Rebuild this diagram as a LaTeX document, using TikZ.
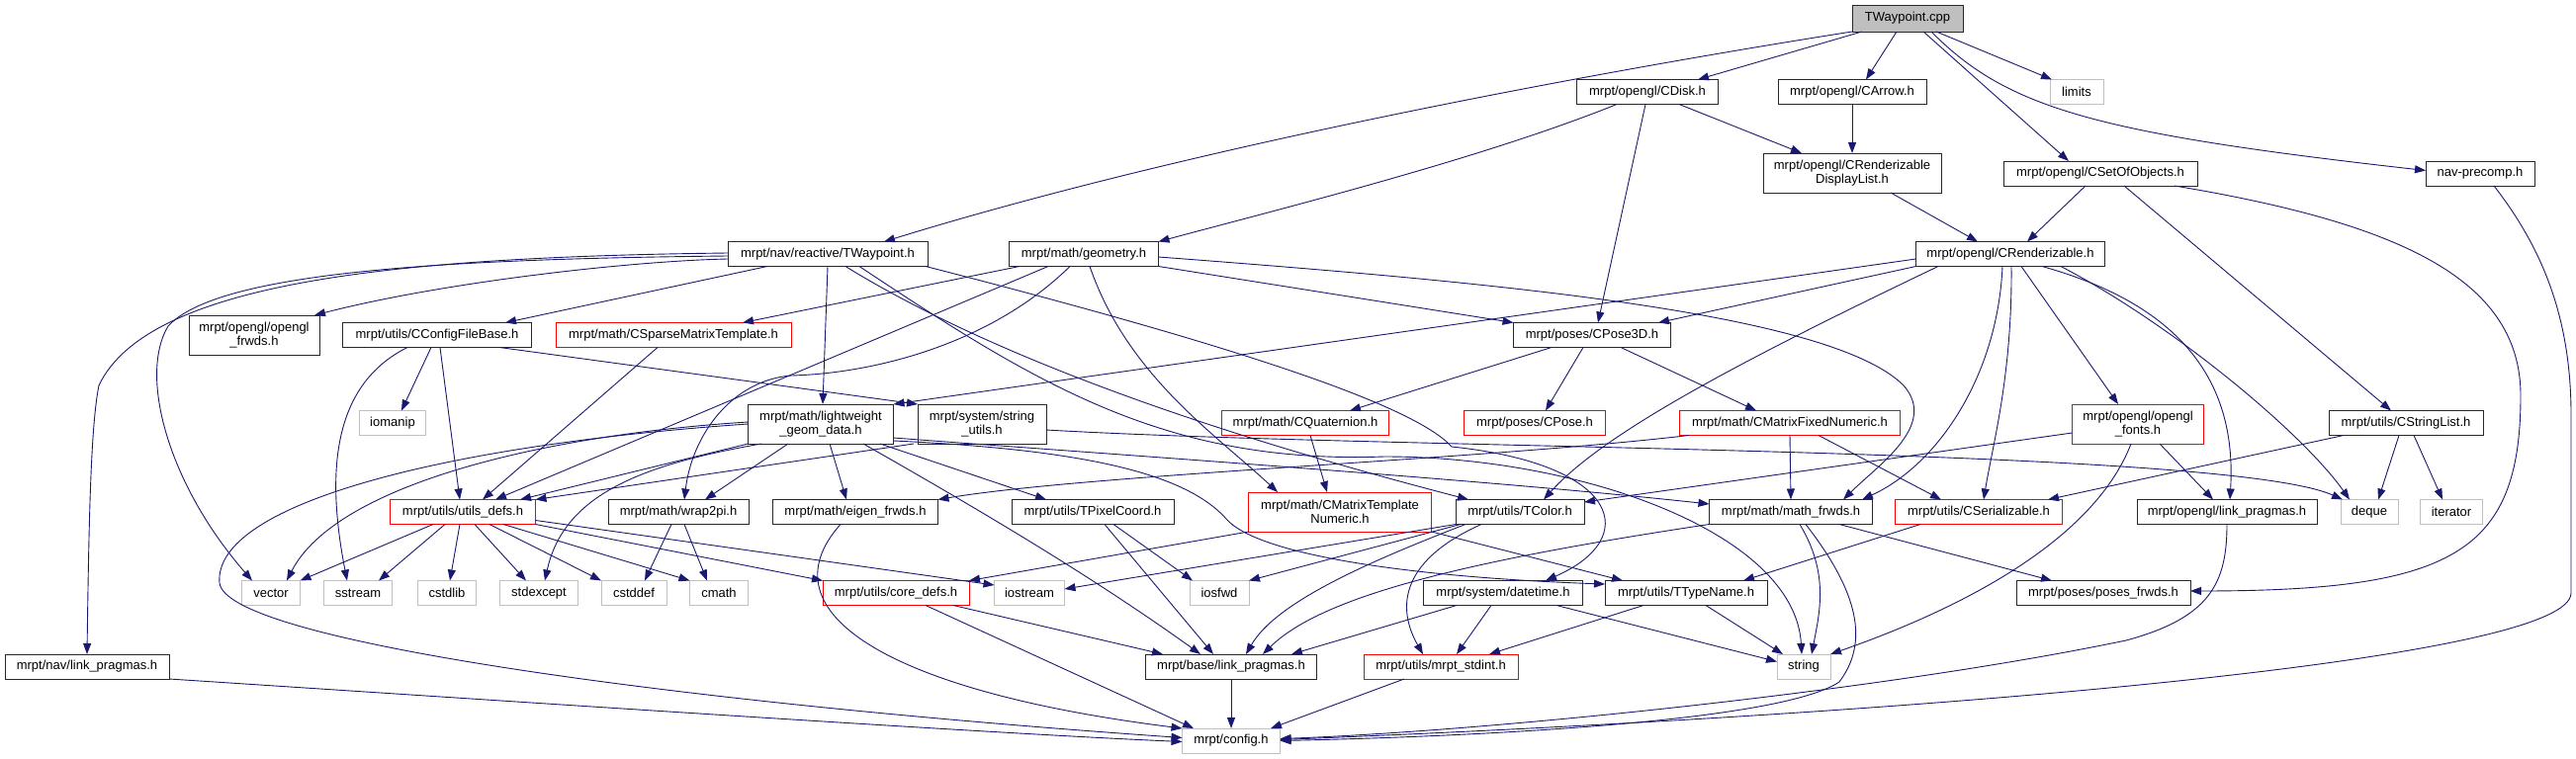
\documentclass[tikz,border=0pt]{standalone}
\usepackage{fontspec}
\usetikzlibrary{arrows.meta}
\newfontfamily\labelfam{Liberation Sans}
\newcommand{\nodefont}{\labelfam\fontsize{13}{14}\selectfont}
\definecolor{edgec}{RGB}{25,25,112}
\definecolor{grayb}{RGB}{191,191,191}
\definecolor{redb}{RGB}{255,0,0}
\definecolor{darkb}{RGB}{40,40,40}
\tikzset{
  nd/.style={draw=darkb, line width=0.9pt, fill=white, minimum height=25pt, inner sep=0pt, outer sep=0pt, align=center, font=\nodefont},
  two/.style={minimum height=40pt},
  trunc/.style={draw=redb},
  sys/.style={draw=grayb},
  rootst/.style={fill=grayb},
  arr/.style={draw=edgec, line width=0.9pt, -{Triangle[length=11pt,width=8pt]}},
}
\begin{document}
\begin{tikzpicture}[x=1pt,y=-1pt]
\useasboundingbox (0,0) rectangle (2605,768);
\fill[white] (0,0) rectangle (2605,768);
% nodes
\node[nd, rootst, minimum width=112pt, minimum height=27pt] (root) at (1929,18.5) {TWaypoint.cpp};
\node[nd, minimum width=202pt] (tw) at (837,257) {mrpt/nav/reactive/TWaypoint.h};
\node[nd, minimum width=143pt] (cdisk) at (1666,93) {mrpt/opengl/CDisk.h};
\node[nd, minimum width=150pt] (carrow) at (1873,93) {mrpt/opengl/CArrow.h};
\node[nd, sys, minimum width=54pt] (limits) at (2100,93) {limits};
\node[nd, two, minimum width=180pt] (rdl) at (1873,175) {mrpt/opengl/CRenderizable\\DisplayList.h};
\node[nd, minimum width=196pt] (cset) at (2124,175.5) {mrpt/opengl/CSetOfObjects.h};
\node[nd, minimum width=110pt] (navpre) at (2508,175.5) {nav-precomp.h};
\node[nd, minimum width=151pt] (geom) at (1096,257) {mrpt/math/geometry.h};
\node[nd, minimum width=191pt] (crend) at (2033,257) {mrpt/opengl/CRenderizable.h};
\node[nd, two, minimum width=132pt] (oglfw) at (257,339) {mrpt/opengl/opengl\\\_frwds.h};
\node[nd, minimum width=191pt] (cfg) at (442,339) {mrpt/utils/CConfigFileBase.h};
\node[nd, trunc, minimum width=238pt] (sparse) at (681,339) {mrpt/math/CSparseMatrixTemplate.h};
\node[nd, minimum width=159pt] (pose3d) at (1610,339) {mrpt/poses/CPose3D.h};
\node[nd, sys, minimum width=67pt] (iomanip) at (397,428) {iomanip};
\node[nd, two, minimum width=147pt] (lw) at (830,429) {mrpt/math/lightweight\\\_geom\_data.h};
\node[nd, two, minimum width=130pt] (strutil) at (993,429) {mrpt/system/string\\\_utils.h};
\node[nd, trunc, minimum width=169pt] (quat) at (1320,428) {mrpt/math/CQuaternion.h};
\node[nd, trunc, minimum width=143pt] (cpose) at (1552,428) {mrpt/poses/CPose.h};
\node[nd, trunc, minimum width=223pt] (fixed) at (1810,428) {mrpt/math/CMatrixFixedNumeric.h};
\node[nd, trunc, two, minimum width=133pt] (fonts) at (2162,429) {mrpt/opengl/opengl\\\_fonts.h};
\node[nd, minimum width=156pt] (strlist) at (2433,428) {mrpt/utils/CStringList.h};
\node[nd, trunc, minimum width=147pt] (udefs) at (468,518) {mrpt/utils/utils\_defs.h};
\node[nd, minimum width=142pt] (wrap) at (686,518) {mrpt/math/wrap2pi.h};
\node[nd, minimum width=167pt] (eigen) at (865,518) {mrpt/math/eigen\_frwds.h};
\node[nd, minimum width=164pt] (pixel) at (1105,518) {mrpt/utils/TPixelCoord.h};
\node[nd, trunc, two, minimum width=185pt] (tmpl) at (1355,518) {mrpt/math/CMatrixTemplate\\Numeric.h};
\node[nd, minimum width=130pt] (tcolor) at (1537,518) {mrpt/utils/TColor.h};
\node[nd, minimum width=165pt] (mfrwds) at (1811,518) {mrpt/math/math\_frwds.h};
\node[nd, trunc, minimum width=169pt] (ser) at (2001,518) {mrpt/utils/CSerializable.h};
\node[nd, minimum width=182pt] (ogllp) at (2252,518) {mrpt/opengl/link\_pragmas.h};
\node[nd, sys, minimum width=58pt] (deque) at (2396,518) {deque};
\node[nd, sys, minimum width=63pt] (iterator) at (2479,518) {iterator};
\node[nd, sys, minimum width=59pt] (vector) at (274,600) {vector};
\node[nd, sys, minimum width=69pt] (sstream) at (362,600) {sstream};
\node[nd, sys, minimum width=59pt] (cstdlib) at (452,600) {cstdlib};
\node[nd, sys, minimum width=79pt] (stdexcept) at (545,600) {stdexcept};
\node[nd, sys, minimum width=66pt] (cstddef) at (641,600) {cstddef};
\node[nd, sys, minimum width=59pt] (cmath) at (727,600) {cmath};
\node[nd, trunc, minimum width=148pt] (core) at (906,600) {mrpt/utils/core\_defs.h};
\node[nd, sys, minimum width=71pt] (iostream) at (1041,600) {iostream};
\node[nd, sys, minimum width=60pt] (iosfwd) at (1233,600) {iosfwd};
\node[nd, minimum width=161pt] (datetime) at (1520,600) {mrpt/system/datetime.h};
\node[nd, minimum width=164pt] (ttype) at (1705,600) {mrpt/utils/TTypeName.h};
\node[nd, minimum width=176pt] (posefw) at (2127,600) {mrpt/poses/poses\_frwds.h};
\node[nd, minimum width=166pt] (navlp) at (88,674.5) {mrpt/nav/link\_pragmas.h};
\node[nd, minimum width=173pt] (baselp) at (1245,674.5) {mrpt/base/link\_pragmas.h};
\node[nd, trunc, minimum width=156pt] (stdint) at (1457,674.5) {mrpt/utils/mrpt\_stdint.h};
\node[nd, sys, minimum width=54pt] (string) at (1824,674.5) {string};
\node[nd, sys, minimum width=99pt] (config) at (1245,749.5) {mrpt/config.h};
% root
\draw[arr] (root.south west) .. controls (1600,75) and (1200,150) .. ([xshift=57pt]tw.north);
\draw[arr] ([xshift=-46pt]root.south) -- ([xshift=51pt]cdisk.north);
\draw[arr] ([xshift=-11pt]root.south) -- ([xshift=14pt]carrow.north);
\draw[arr] ([xshift=16pt]root.south) -- ([xshift=-32pt]cset.north);
\draw[arr] ([xshift=29pt]root.south) -- ([xshift=-25pt]limits.north);
\draw[arr] ([xshift=24pt]root.south) .. controls (2030,110) and (2120,135) .. ([yshift=3pt]navpre.west);
% CDisk, CArrow, display list, set of objects
\draw[arr] ([xshift=32pt]cdisk.south) -- ([xshift=-51pt]rdl.north);
\draw[arr] ([xshift=-31pt]cdisk.south) .. controls (1500,160) and (1300,210) .. (geom.north east);
\draw[arr] ([xshift=-2pt]cdisk.south) -- ([xshift=6pt]pose3d.north);
\draw[arr] (carrow.south) -- (rdl.north);
\draw[arr] ([xshift=39pt]rdl.south) -- ([xshift=-33pt]crend.north);
\draw[arr] ([xshift=-15pt]cset.south) -- ([xshift=17pt]crend.north);
\draw[arr] ([xshift=24pt]cset.south) -- ([xshift=-15pt]strlist.north);
\draw[arr] ([xshift=75pt]cset.south) .. controls (2420,225) and (2549,280) .. (2549,400) .. controls (2549,560) and (2480,598) .. ([yshift=2pt]posefw.east);
\draw[arr] ([xshift=14pt]navpre.south) .. controls (2570,250) and (2600,320) .. (2600,420) -- (2600,600) .. controls (2600,665) and (2000,720) .. ([yshift=1pt]config.east);
% geometry
\draw[arr] ([xshift=-65pt]geom.south) -- ([xshift=70pt]sparse.north);
\draw[arr] ([xshift=-36pt]geom.south) -- ([xshift=33pt]udefs.north);
\draw[arr] ([xshift=-14pt]geom.south) .. controls (1000,350) and (880,378) .. (800,380) .. controls (740,385) and (700,440) .. ([xshift=6pt]wrap.north);
\draw[arr] ([xshift=6pt]geom.south) .. controls (1140,380) and (1230,440) .. ([xshift=-63pt]tmpl.north);
\draw[arr] (geom.south east) -- (pose3d.north west);
\draw[arr] ([yshift=-3pt]geom.east) .. controls (1500,285) and (1850,315) .. (1925,390) .. controls (1960,430) and (1900,470) .. ([xshift=53pt]mfrwds.north);
% TWaypoint.h
\draw[arr] ([yshift=-5pt]tw.west) .. controls (640,264) and (450,285) .. ([xshift=-5pt]oglfw.north east);
\draw[arr] ([xshift=-61pt]tw.south) -- ([xshift=69pt]cfg.north);
\draw[arr] ([yshift=1pt]tw.west) .. controls (400,260) and (150,285) .. (100,390) .. controls (92,430) and (90,520) .. (navlp.north);
\draw[arr] ([yshift=-2pt]tw.west) .. controls (450,262) and (220,275) .. (170,330) .. controls (140,380) and (170,490) .. ([xshift=-19pt]vector.north);
\draw[arr] (tw.south) -- ([xshift=2pt]lw.north);
\draw[arr] ([xshift=18pt]tw.south) .. controls (1050,390) and (1350,470) .. ([xshift=-52pt]tcolor.north);
\draw[arr] ([xshift=-2pt]tw.south east) .. controls (1250,350) and (1430,410) .. (1468,452) .. controls (1640,470) and (1660,545) .. ([xshift=43pt]datetime.north);
\draw[arr] ([xshift=32pt]tw.south) .. controls (1050,390) and (1180,470) .. (1400,462) .. controls (1600,462) and (1815,540) .. ([xshift=-2pt]string.north);
% lightweight
\draw[arr] (lw.south west) -- ([xshift=58pt]udefs.north);
\draw[arr] ([xshift=-33pt]lw.south) -- ([xshift=27pt]wrap.north);
\draw[arr] ([xshift=9pt]lw.south) -- ([xshift=-9pt]eigen.north);
\draw[arr] ([xshift=60pt]lw.south) -- ([xshift=-47pt]pixel.north);
\draw[arr] ([xshift=43pt]lw.south) .. controls (980,510) and (1100,580) .. ([xshift=-31pt]baselp.north);
\draw[arr] ([yshift=2pt]lw.west) .. controls (550,440) and (340,490) .. ([xshift=16pt]vector.north);
\draw[arr] (lw.west) .. controls (450,450) and (215,510) .. (222,590) .. controls (230,650) and (700,712) .. ([yshift=3pt]config.west);
\draw[arr] ([xshift=-60pt]lw.south) .. controls (650,470) and (570,500) .. ([xshift=6pt]stdexcept.north);
\draw[arr] ([yshift=-14pt]lw.east) .. controls (1100,458) and (1500,485) .. ([yshift=8pt]mfrwds.west);
\draw[arr] ([yshift=-17pt]lw.east) .. controls (1100,455) and (1200,480) .. (1240,525) .. controls (1275,565) and (1450,585) .. ([yshift=9pt]ttype.west);
% string_utils
\draw[arr] ([xshift=-69pt]strutil.south) -- (udefs.north east);
\draw[arr] ([yshift=-6pt]strutil.east) .. controls (1400,455) and (2250,452) .. ([xshift=-27pt]deque.north);
% CConfigFileBase, sparse
\draw[arr] ([xshift=-6pt]cfg.south) -- ([xshift=9pt]iomanip.north);
\draw[arr] ([xshift=3pt]cfg.south) -- ([xshift=-3pt]udefs.north);
\draw[arr] ([xshift=-30pt]cfg.south) .. controls (335,390) and (330,480) .. ([xshift=-11pt]sstream.north);
\draw[arr] ([xshift=63pt]cfg.south) -- (strutil.north west);
\draw[arr] ([xshift=-16pt]sparse.south) -- ([xshift=20pt]udefs.north);
% utils_defs
\draw[arr] ([xshift=-30pt]udefs.south) -- (vector.north east);
\draw[arr] ([xshift=-18pt]udefs.south) -- ([xshift=21pt]sstream.north);
\draw[arr] ([xshift=-3pt]udefs.south) -- ([xshift=3pt]cstdlib.north);
\draw[arr] ([xshift=12pt]udefs.south) -- ([xshift=-13pt]stdexcept.north);
\draw[arr] ([xshift=27pt]udefs.south) -- (cstddef.north west);
\draw[arr] ([xshift=41pt]udefs.south) -- (cmath.north west);
\draw[arr] (udefs.south east) -- (core.north west);
\draw[arr] ([yshift=4pt]udefs.south east) -- ([yshift=8pt]iostream.west);
% wrap2pi, eigen, pixel
\draw[arr] ([xshift=-7pt]wrap.south) -- ([xshift=11pt]cstddef.north);
\draw[arr] ([xshift=6pt]wrap.south) -- ([xshift=-12pt]cmath.north);
\draw[arr] ([xshift=-15pt]eigen.south) .. controls (770,620) and (900,700) .. (config.north west);
\draw[arr] ([xshift=21pt]pixel.south) -- ([xshift=-27pt]iosfwd.north);
\draw[arr] ([xshift=12pt]pixel.south) -- ([xshift=-18pt]baselp.north);
% matrix template, quaternion, pose3d, fixed
\draw[arr] (tmpl.south west) -- (core.north east);
\draw[arr] (tmpl.south east) -- ([xshift=-64pt]ttype.north);
\draw[arr] ([xshift=5pt]quat.south) -- ([xshift=-13pt]tmpl.north);
\draw[arr] ([xshift=-41pt]pose3d.south) -- ([xshift=45pt]quat.north);
\draw[arr] ([xshift=-9pt]pose3d.south) -- ([xshift=11pt]cpose.north);
\draw[arr] ([xshift=29pt]pose3d.south) -- ([xshift=-34pt]fixed.north);
\draw[arr] ([xshift=-102pt]fixed.south) .. controls (1500,465) and (1100,480) .. (eigen.north east);
\draw[arr] (fixed.south) -- (mfrwds.north);
\draw[arr] ([xshift=29pt]fixed.south) -- ([xshift=-38pt]ser.north);
% TColor
\draw[arr] (tcolor.south west) -- ([yshift=4pt]iostream.east);
\draw[arr] ([xshift=-60pt]tcolor.south) -- (iosfwd.north east);
\draw[arr] ([xshift=-55pt]tcolor.south) .. controls (1380,570) and (1290,610) .. ([xshift=15pt]baselp.north);
\draw[arr] ([xshift=-39pt]tcolor.south) .. controls (1410,570) and (1415,620) .. ([xshift=-18pt]stdint.north);
% math_frwds
\draw[arr] (mfrwds.south west) .. controls (1500,565) and (1340,600) .. ([xshift=32pt]baselp.north);
\draw[arr] ([xshift=49pt]mfrwds.south) -- ([xshift=-52pt]posefw.north);
\draw[arr] ([xshift=9pt]mfrwds.south) .. controls (1850,580) and (1840,620) .. ([xshift=8pt]string.north);
\draw[arr] ([xshift=15pt]mfrwds.south) .. controls (1880,600) and (1890,650) .. (1860,690) .. controls (1800,730) and (1500,745) .. (config.east);
% serializable, fonts
\draw[arr] ([xshift=-59pt]ser.south) -- ([xshift=58pt]ttype.north);
\draw[arr] ([yshift=-9pt]fonts.west) -- ([yshift=10pt]tcolor.east);
\draw[arr] ([xshift=-7pt]fonts.south) .. controls (2120,540) and (2000,610) .. (string.north east);
\draw[arr] ([xshift=22pt]fonts.south) -- ([xshift=-14pt]ogllp.north);
% CRenderizable
\draw[arr] (crend.south west) -- ([xshift=67pt]pose3d.north);
\draw[arr] ([yshift=-5pt]crend.west) -- (lw.north east);
\draw[arr] ([xshift=-73pt]crend.south) .. controls (1750,370) and (1620,440) .. ([xshift=24pt]tcolor.north);
\draw[arr] ([xshift=-8pt]crend.south) .. controls (2020,380) and (1960,470) .. ([xshift=72pt]mfrwds.north);
\draw[arr] ([xshift=1pt]crend.south) .. controls (2035,380) and (2015,450) .. ([xshift=5pt]ser.north);
\draw[arr] ([xshift=11pt]crend.south) -- ([xshift=-20pt]fonts.north);
\draw[arr] ([xshift=32pt]crend.south) .. controls (2210,310) and (2262,390) .. ([xshift=3pt]ogllp.north);
\draw[arr] ([xshift=51pt]crend.south) .. controls (2200,330) and (2330,440) .. ([xshift=-20pt]deque.north);
% CStringList
\draw[arr] ([xshift=-63pt]strlist.south) -- ([xshift=70pt]ser.north);
\draw[arr] ([xshift=-7pt]strlist.south) -- ([xshift=9pt]deque.north);
\draw[arr] ([xshift=8pt]strlist.south) -- ([xshift=-9pt]iterator.north);
% opengl link pragmas
\draw[arr] (ogllp.south) .. controls (2252,590) and (2235,625) .. (2150,648) .. controls (1900,700) and (1500,740) .. ([yshift=2pt]config.east);
% core, datetime, TTypeName
\draw[arr] ([xshift=58pt]core.south) -- ([xshift=-69pt]baselp.north);
\draw[arr] ([xshift=30pt]core.south) -- ([xshift=-38pt]config.north);
\draw[arr] ([xshift=-47pt]datetime.south) -- ([xshift=61pt]baselp.north);
\draw[arr] ([xshift=-12pt]datetime.south) -- ([xshift=16pt]stdint.north);
\draw[arr] ([xshift=54pt]datetime.south) -- ([yshift=5pt]string.west);
\draw[arr] ([xshift=-43pt]ttype.south) -- ([xshift=49pt]stdint.north);
\draw[arr] ([xshift=20pt]ttype.south) -- ([xshift=-21pt]string.north);
% into config
\draw[arr] (baselp.south) -- (config.north);
\draw[arr] ([xshift=-37pt]stdint.south) -- ([xshift=40pt]config.north);
\draw[arr] (navlp.south east) .. controls (600,715) and (1000,742) .. ([yshift=-1pt]config.west);
\end{tikzpicture}
\end{document}
